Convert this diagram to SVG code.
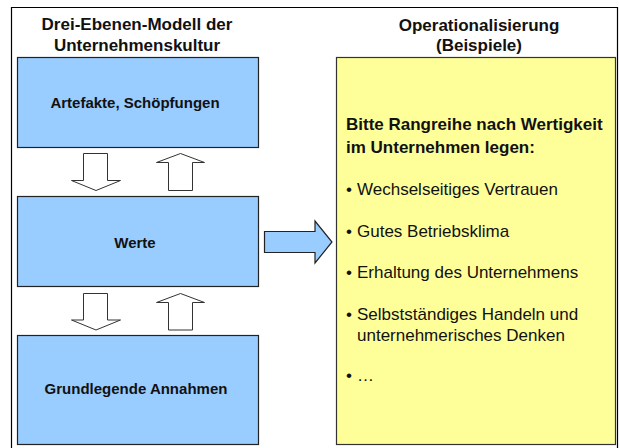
<svg xmlns="http://www.w3.org/2000/svg" width="619" height="448" viewBox="0 0 619 448">
<style>
.frame{fill:none;stroke:#000;stroke-width:1.2}
.blue{fill:#99CCFF;stroke:#222;stroke-width:1.2}
.yellow{fill:#FFFF99;stroke:#333;stroke-width:1.2}
.hdr{font-family:"Liberation Sans",Arial,sans-serif;font-weight:bold;font-size:17px;fill:#111;text-anchor:middle}
.lbl{font-family:"Liberation Sans",Arial,sans-serif;font-weight:bold;font-size:15px;fill:#111;text-anchor:middle}
.bt{font-family:"Liberation Sans",Arial,sans-serif;font-weight:bold;font-size:17px;fill:#111}
.it{font-family:"Liberation Sans",Arial,sans-serif;font-size:17px;fill:#111}
.arr{fill:#fff;stroke:#333;stroke-width:1}
.bigarr{fill:#99CCFF;stroke:#222;stroke-width:1.2}
</style>
<rect width="619" height="448" fill="#fff"/>
<path class="frame" d="M11.5 450 V7.5 H617.5 V450"/>
<text class="hdr" x="137" y="30">Drei-Ebenen-Modell der</text>
<text class="hdr" x="137" y="50.5">Unternehmenskultur</text>
<text class="hdr" x="479" y="30.5">Operationalisierung</text>
<text class="hdr" x="479" y="51">(Beispiele)</text>
<g id="artefakte">
<rect class="blue" x="17.5" y="57.5" width="241" height="90"/>
<text class="lbl" x="135" y="108">Artefakte, Schöpfungen</text>
</g>
<g id="werte">
<rect class="blue" x="17.5" y="196.5" width="241" height="90"/>
<text class="lbl" x="135" y="248">Werte</text>
</g>
<g id="annahmen">
<rect class="blue" x="17.5" y="335.5" width="241" height="109"/>
<text class="lbl" x="136" y="394">Grundlegende Annahmen</text>
</g>
<g id="operationalisierung">
<rect class="yellow" x="336.5" y="57.5" width="279" height="387"/>
<text class="bt" x="346" y="130">Bitte Rangreihe nach Wertigkeit</text>
<text class="bt" x="346" y="153">im Unternehmen legen:</text>
<text class="it" y="194.5"><tspan x="346">•</tspan><tspan x="357">Wechselseitiges Vertrauen</tspan></text>
<text class="it" y="236.5"><tspan x="346">•</tspan><tspan x="357">Gutes Betriebsklima</tspan></text>
<text class="it" y="278"><tspan x="346">•</tspan><tspan x="357">Erhaltung des Unternehmens</tspan></text>
<text class="it" y="319.5"><tspan x="346">•</tspan><tspan x="357">Selbstständiges Handeln und</tspan></text>
<text class="it" x="357" y="340.5">unternehmerisches Denken</text>
<text class="it" y="381"><tspan x="346">•</tspan><tspan x="357">…</tspan></text>
</g>
<g id="connectors">
<polygon class="arr" points="83.5,153.5 107.5,153.5 107.5,180.5 120.5,180.5 96,190.5 71.5,180.5 83.5,180.5"/>
<polygon class="arr" points="168.5,190.5 192.5,190.5 192.5,162.5 204.5,162.5 180.5,153.5 156.5,162.5 168.5,162.5"/>
<polygon class="arr" points="83.5,293.5 107.5,293.5 107.5,320 120.5,320 96,330 71.5,320 83.5,320"/>
<polygon class="arr" points="168.5,330 192.5,330 192.5,302.5 204.5,302.5 180.5,293.5 156.5,302.5 168.5,302.5"/>
<polygon class="bigarr" points="264.5,231.5 315,231.5 315,221 332,242 315,263 315,252.5 264.5,252.5"/>
</g>
</svg>
